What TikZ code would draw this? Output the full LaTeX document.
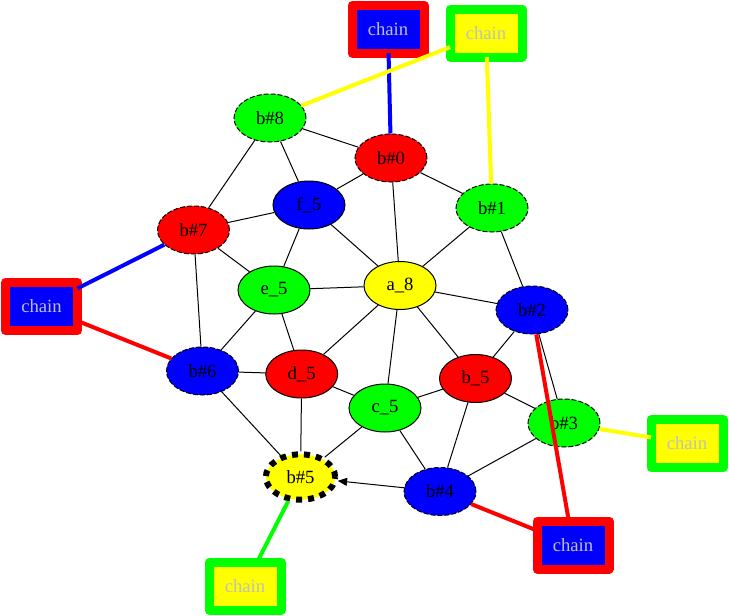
\documentclass[tikz,border=0pt]{standalone}
\usepackage{fontspec}
\setmainfont{Liberation Serif}
\usetikzlibrary{arrows.meta,shapes.geometric}
\definecolor{chaintext}{RGB}{192,192,192}
\definecolor{gvgreen}{RGB}{0,255,0}
\definecolor{gvred}{RGB}{255,0,0}
\definecolor{gvblue}{RGB}{0,0,255}
\definecolor{gvyellow}{RGB}{255,255,0}
\tikzset{
  vtx/.style={ellipse, draw=black, line width=0.75pt, minimum width=54pt, minimum height=36pt, inner sep=0pt, font=\fontsize{14}{16}\selectfont},
  bvtx/.style={vtx, dash pattern=on 3.75pt off 1.5pt},
  chainbox/.style={rectangle, line width=6.75pt, line join=round, minimum width=54pt, minimum height=36pt, inner sep=0pt, outer sep=0pt, text=chaintext, font=\fontsize{14}{16}\selectfont},
  rb/.style={chainbox, draw=gvred, fill=gvblue},
  gy/.style={chainbox, draw=gvgreen, fill=gvyellow},
  thin edge/.style={draw=black, line width=0.75pt},
  cedge/.style={line width=3pt},
}
\begin{document}
\begin{tikzpicture}[x=0.75pt, y=-0.75pt]
\useasboundingbox (0,0) rectangle (729,615);
% nodes
\node[bvtx, fill=gvgreen] (b8) at (270,118) {b\#8};
\node[bvtx, fill=gvred] (b0) at (391,158) {b\#0};
\node[vtx, fill=gvblue] (f5) at (309,205) {f\_5};
\node[bvtx, fill=gvgreen] (b1) at (492,208) {b\#1};
\node[bvtx, fill=gvred] (b7) at (193.5,230) {b\#7};
\node[vtx, fill=gvgreen] (e5) at (274,290) {e\_5};
\node[vtx, fill=gvyellow] (a8) at (400,285.5) {a\_8};
\node[bvtx, fill=gvblue] (b2) at (532,310) {b\#2};
\node[bvtx, fill=gvblue] (b6) at (202.5,371) {b\#6};
\node[vtx, fill=gvred] (d5) at (301.7,374) {d\_5};
\node[vtx, fill=gvred] (b_5) at (475.5,378.5) {b\_5};
\node[vtx, fill=gvgreen] (c5) at (385,408) {c\_5};
\node[bvtx, fill=gvgreen] (b3) at (564,423) {b\#3};
\node[bvtx, fill=gvblue] (b4) at (440,491.5) {b\#4};
\node[vtx, fill=gvyellow, line width=4.5pt, dash pattern=on 4.5pt off 4.5pt, minimum width=52pt, minimum height=34pt] (b5) at (300.5,477) {b\#5};
% chain boxes
\node[rb] (c1) at (388,29) {chain};
\node[gy] (c2) at (486,33) {chain};
\node[rb] (c3) at (41.5,306.5) {chain};
\node[gy] (c4) at (687,443.5) {chain};
\node[rb] (c5b) at (573,545) {chain};
\node[gy] (c6) at (245,586) {chain};
% black edges
\foreach \a/\b in {b8/b0, b8/b7, b8/f5, b0/f5, b0/b1, b0/a8, f5/b7, f5/e5, f5/a8, b1/a8, b1/b2,
  b7/e5, b7/b6, e5/a8, e5/b6, e5/d5, a8/b2, a8/d5, a8/c5, a8/b_5, b2/b_5, b2/b3, b6/d5, b6/b5,
  d5/c5, d5/b5, c5/b_5, c5/b5, c5/b4, b_5/b3, b_5/b4, b3/b4}
  \draw[thin edge] (\a) -- (\b);
\draw[thin edge, -{Triangle[length=7pt, width=6pt]}] (b4) -- (b5);
% coloured edges
\draw[cedge, gvblue] (c1) -- (b0);
\draw[cedge, gvyellow] (c2) -- (b8);
\draw[cedge, gvyellow] (c2) -- (b1);
\draw[cedge, gvblue] (c3) -- (b7);
\draw[cedge, gvred] (c3) -- (b6);
\draw[cedge, gvyellow] (c4) -- (b3);
\draw[cedge, gvred] (c5b) -- (b2);
\draw[cedge, gvred] (c5b) -- (b4);
\draw[cedge, gvgreen] (c6) -- (b5);
\end{tikzpicture}
\end{document}
